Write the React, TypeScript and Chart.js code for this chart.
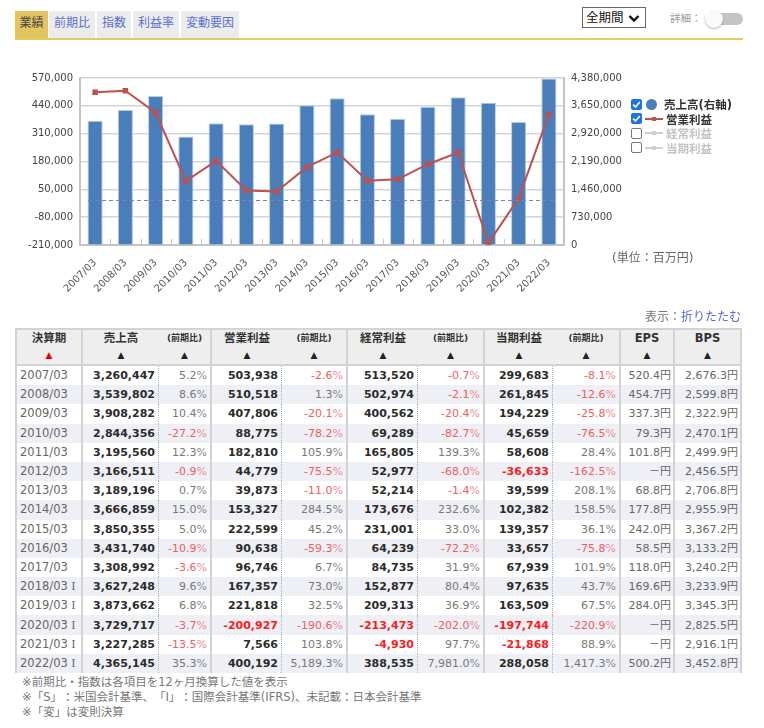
import React, { useEffect, useRef } from "react";
import { Chart, registerables } from "chart.js";

Chart.register(...registerables);

const FONT = "'DejaVu Sans', 'Noto Sans CJK JP', sans-serif";

// ---- data ----
const categories = ["2007/03", "2008/03", "2009/03", "2010/03", "2011/03", "2012/03", "2013/03", "2014/03", "2015/03", "2016/03", "2017/03", "2018/03", "2019/03", "2020/03", "2021/03", "2022/03"];
const periodSuffix = ["", "", "", "", "", "", "", "", "", "", "", "I", "I", "I", "I", "I"];
const sales = [3260447, 3539802, 3908282, 2844356, 3195560, 3166511, 3189196, 3666859, 3850355, 3431740, 3308992, 3627248, 3873662, 3729717, 3227285, 4365145];
const salesYoY = [5.2, 8.6, 10.4, -27.2, 12.3, -0.9, 0.7, 15.0, 5.0, -10.9, -3.6, 9.6, 6.8, -3.7, -13.5, 35.3];
const opProfit = [503938, 510518, 407806, 88775, 182810, 44779, 39873, 153327, 222599, 90638, 96746, 167357, 221818, -200927, 7566, 400192];
const opYoY = [-2.6, 1.3, -20.1, -78.2, 105.9, -75.5, -11.0, 284.5, 45.2, -59.3, 6.7, 73.0, 32.5, -190.6, 103.8, 5189.3];
const ordProfit = [513520, 502974, 400562, 69289, 165805, 52977, 52214, 173676, 231001, 64239, 84735, 152877, 209313, -213473, -4930, 388535];
const ordYoY = [-0.7, -2.1, -20.4, -82.7, 139.3, -68.0, -1.4, 232.6, 33.0, -72.2, 31.9, 80.4, 36.9, -202.0, 97.7, 7981.0];
const netProfit = [299683, 261845, 194229, 45659, 58608, -36633, 39599, 102382, 139357, 33657, 67939, 97635, 163509, -197744, -21868, 288058];
const netYoY = [-8.1, -12.6, -25.8, -76.5, 28.4, -162.5, 208.1, 158.5, 36.1, -75.8, 101.9, 43.7, 67.5, -220.9, 88.9, 1417.3];
const eps = [520.4, 454.7, 337.3, 79.3, 101.8, null, 68.8, 177.8, 242.0, 58.5, 118.0, 169.6, 284.0, null, null, 500.2];
const bps = [2676.3, 2599.8, 2322.9, 2470.1, 2499.9, 2456.5, 2706.8, 2955.9, 3367.2, 3133.2, 3240.2, 3233.9, 3345.3, 2825.5, 2916.1, 3452.8];

const leftAxis = { min: -210000, max: 570000, step: 130000 };
const rightAxis = { min: 0, max: 4380000, step: 730000 };

const tabs = ["業績", "前期比", "指数", "利益率", "変動要因"];
const legendItems = [
  { label: "売上高(右軸)", on: true, kind: "dot" },
  { label: "営業利益", on: true, kind: "line" },
  { label: "経常利益", on: false, kind: "line" },
  { label: "当期利益", on: false, kind: "line" },
];
const footnotes = [
  "※前期比・指数は各項目を12ヶ月換算した値を表示",
  "※「S」：米国会計基準、「I」：国際会計基準(IFRS)、未記載：日本会計基準",
  "※「変」は変則決算",
];

const BAR = "#4a7ebb";
const LINE = "#c0504d";

const fmtInt = (v: number) => v.toLocaleString("en-US");
const fmt1 = (v: number) =>
  v.toLocaleString("en-US", { minimumFractionDigits: 1, maximumFractionDigits: 1 });

const zeroLine = {
  id: "zeroLine",
  afterDatasetsDraw(chart: any) {
    const s = chart.scales.yL;
    const y = Math.round(s.getPixelForValue(0)) + 0.5;
    const { left, right } = chart.chartArea;
    const ctx = chart.ctx;
    ctx.save();
    ctx.setLineDash([4, 3]);
    ctx.strokeStyle = "#8a7bb5";
    ctx.lineWidth = 1.2;
    ctx.beginPath();
    ctx.moveTo(left + 8, y);
    ctx.lineTo(right - 8, y);
    ctx.stroke();
    ctx.restore();
  },
};

const catTicks = {
  id: "catTicks",
  beforeDatasetsDraw(chart: any) {
    const xs = chart.scales.x;
    const bottom = chart.chartArea.bottom;
    const ctx = chart.ctx;
    ctx.save();
    ctx.strokeStyle = "#c8c8c8";
    ctx.lineWidth = 1;
    for (let i = 0; i < categories.length - 1; i++) {
      const x = Math.round((xs.getPixelForValue(i) + xs.getPixelForValue(i + 1)) / 2) + 0.5;
      ctx.beginPath();
      ctx.moveTo(x, bottom - 6);
      ctx.lineTo(x, bottom);
      ctx.stroke();
    }
    ctx.restore();
  },
};

function ChartBox() {
  const ref = useRef<HTMLCanvasElement>(null);
  useEffect(() => {
    Chart.defaults.font.family = FONT;
    const chart = new Chart(ref.current as HTMLCanvasElement, {
      type: "bar",
      data: {
        labels: categories,
        datasets: [
          {
            type: "line",
            label: "営業利益",
            data: opProfit,
            yAxisID: "yL",
            borderColor: LINE,
            backgroundColor: LINE,
            borderWidth: 2,
            pointStyle: "rect",
            pointRadius: 2.5,
            order: 1,
          } as any,
          {
            type: "line",
            label: "経常利益",
            data: ordProfit,
            yAxisID: "yL",
            hidden: true,
            order: 1,
          } as any,
          {
            type: "line",
            label: "当期利益",
            data: netProfit,
            yAxisID: "yL",
            hidden: true,
            order: 1,
          } as any,
          {
            type: "bar",
            label: "売上高(右軸)",
            data: sales,
            yAxisID: "yR",
            backgroundColor: BAR,
            borderColor: "#b8cce6",
            borderWidth: 1,
            barPercentage: 0.5,
            categoryPercentage: 1,
            order: 2,
          } as any,
        ],
      },
      options: {
        responsive: false,
        animation: false,
        devicePixelRatio: 1,
        layout: { padding: { top: 18, left: 0, right: 0, bottom: 0 } },
        plugins: { legend: { display: false }, tooltip: { enabled: false } },
        scales: {
          x: {
            grid: { display: false },
            border: { color: "#c4c4c4", width: 2 },
            ticks: {
              minRotation: 45,
              maxRotation: 45,
              autoSkip: false,
              color: "#555",
              padding: 4,
              font: { size: 10, family: FONT },
            },
            afterFit: (s: any) => {
              s.height = 65;
            },
          },
          yL: {
            position: "left",
            min: leftAxis.min,
            max: leftAxis.max,
            grid: { color: "#d4d4d4", lineWidth: 1.5, drawTicks: false },
            border: { color: "#c4c4c4", width: 2 },
            ticks: {
              stepSize: leftAxis.step,
              padding: 7,
              color: "#444",
              font: { size: 10, family: FONT },
              callback: (v: any) => fmtInt(Number(v)),
            },
            afterFit: (s: any) => {
              s.width = 80;
            },
          },
          yR: {
            position: "right",
            min: rightAxis.min,
            max: rightAxis.max,
            grid: { drawOnChartArea: false, drawTicks: false },
            border: { color: "#c4c4c4", width: 2 },
            ticks: {
              stepSize: rightAxis.step,
              padding: 7,
              color: "#444",
              font: { size: 10, family: FONT },
              callback: (v: any) => fmtInt(Number(v)),
            },
            afterFit: (s: any) => {
              s.width = 76;
            },
          },
        },
      } as any,
      plugins: [zeroLine, catTicks],
    });
    return () => chart.destroy();
  }, []);
  return (
    <canvas
      ref={ref}
      width={640}
      height={250}
      style={{ position: "absolute", left: 0, top: 60, width: 640, height: 250 }}
    />
  );
}

function CheckBox({ on }: { on: boolean }) {
  if (on) {
    return (
      <div style={{ width: 11, height: 11, borderRadius: 2, background: "#1a73e8", position: "relative" }}>
        <svg width="11" height="11" style={{ position: "absolute", left: 0, top: 0 }}>
          <polyline points="2.2,5.6 4.5,8 8.8,3" fill="none" stroke="#fff" strokeWidth="1.7" />
        </svg>
      </div>
    );
  }
  return <div style={{ width: 9, height: 9, borderRadius: 2, border: "1px solid #777", background: "#fff" }} />;
}

function LegendIcon({ kind, on }: { kind: string; on: boolean }) {
  if (kind === "dot") {
    return <div style={{ width: 11, height: 11, borderRadius: "50%", background: BAR, margin: "0 7px 0 4px" }} />;
  }
  const c = on ? LINE : "#cfcfcf";
  return (
    <div style={{ width: 18, height: 11, position: "relative", margin: "0 3px 0 3px" }}>
      <div style={{ position: "absolute", left: 0, top: 4.5, width: 18, height: 2, background: c }} />
      <div style={{ position: "absolute", left: 7, top: 3.5, width: 4, height: 4, background: c }} />
    </div>
  );
}

const colWidths = [66, 76, 53, 70, 66, 70, 67, 68, 68, 54, 67];
const GRID = "#d3d3d3";
const DOT = "1px dotted #b0b0b0";
const SERIF_I = "'DejaVu Serif', 'Liberation Serif', serif";

function Table() {
  const headCell = (title: string, small: boolean, red: boolean, rightBorder: boolean) => (
    <th
      style={{
        background: "#eeeeee",
        borderRight: rightBorder ? `2px solid ${GRID}` : "none",
        borderBottom: `2px solid ${GRID}`,
        verticalAlign: "top",
        padding: "1px 0 0 0",
        fontWeight: "bold",
        color: "#333",
      }}
    >
      <div style={{ fontSize: small ? 9 : 11.5, lineHeight: "15px", height: 15 }}>{title}</div>
      <div style={{ fontSize: 9, lineHeight: "16px", color: red ? "#ee0000" : "#222", marginTop: 1 }}>▲</div>
    </th>
  );
  const num = (v: number, dotted: boolean) => (
    <td
      style={{
        textAlign: "right",
        fontWeight: "bold",
        color: v < 0 ? "#ff1a1a" : "#2b2b2b",
        borderRight: dotted ? DOT : `2px solid ${GRID}`,
        padding: "0 3px 0 0",
      }}
    >
      {fmtInt(v)}
    </td>
  );
  const pct = (v: number) => (
    <td
      style={{
        textAlign: "right",
        color: v < 0 ? "#f25c5c" : "#777",
        borderRight: `2px solid ${GRID}`,
        padding: "0 3px 0 0",
      }}
    >
      {fmt1(v)}
      <span style={{ color: v < 0 ? "#f08c8c" : "#8a8a8a" }}>%</span>
    </td>
  );
  return (
    <table
      style={{
        position: "absolute",
        left: 15,
        top: 328,
        width: 727,
        tableLayout: "fixed",
        borderCollapse: "separate",
        borderSpacing: 0,
        borderLeft: `2px solid ${GRID}`,
        borderTop: `2px solid ${GRID}`,
        fontFamily: FONT,
        fontSize: 11,
      }}
    >
      <colgroup>
        {colWidths.map((w, i) => (
          <col key={i} style={{ width: w }} />
        ))}
      </colgroup>
      <thead>
        <tr style={{ height: 36 }}>
          {headCell("決算期", false, true, true)}
          {headCell("売上高", false, false, false)}
          {headCell("(前期比)", true, false, true)}
          {headCell("営業利益", false, false, false)}
          {headCell("(前期比)", true, false, true)}
          {headCell("経常利益", false, false, false)}
          {headCell("(前期比)", true, false, true)}
          {headCell("当期利益", false, false, false)}
          {headCell("(前期比)", true, false, true)}
          {headCell("EPS", false, false, true)}
          {headCell("BPS", false, false, true)}
        </tr>
      </thead>
      <tbody>
        {categories.map((c, i) => (
          <tr key={c} style={{ height: 19.2, background: i % 2 === 1 ? "#efeff6" : "#ffffff", lineHeight: "15px", whiteSpace: "nowrap" }}>
            <td style={{ color: "#666", borderRight: `2px solid ${GRID}`, padding: "0 0 0 3px", fontSize: 11.5 }}>
              {c}
              {periodSuffix[i] ? <span style={{ fontFamily: SERIF_I, fontSize: 11 }}>{" " + periodSuffix[i]}</span> : null}
            </td>
            {num(sales[i], true)}
            {pct(salesYoY[i])}
            {num(opProfit[i], true)}
            {pct(opYoY[i])}
            {num(ordProfit[i], true)}
            {pct(ordYoY[i])}
            {num(netProfit[i], true)}
            {pct(netYoY[i])}
            <td style={{ textAlign: "right", color: "#666", borderRight: `2px solid ${GRID}`, padding: "0 2px 0 0" }}>
              {eps[i] === null ? "－" : fmt1(eps[i] as number)}円
            </td>
            <td style={{ textAlign: "right", color: "#666", borderRight: `2px solid ${GRID}`, padding: "0 2px 0 0" }}>
              {fmt1(bps[i])}円
            </td>
          </tr>
        ))}
      </tbody>
    </table>
  );
}

export default function App() {
  const tabLefts = [15, 49, 97, 133, 181];
  const tabWidths = [33, 46, 34, 46, 58];
  return (
    <div
      style={{
        position: "absolute",
        left: 0,
        top: 0,
        width: 764,
        height: 728,
        background: "#fff",
        fontFamily: FONT,
        overflow: "hidden",
        textSpacingTrim: "space-all",
      } as any}
    >
      {/* tabs */}
      {tabs.map((t, i) => (
        <div
          key={t}
          style={{
            position: "absolute",
            left: tabLefts[i],
            top: 11,
            width: tabWidths[i],
            height: 27,
            background: i === 0 ? "#e3c45f" : "#ececec",
            color: i === 0 ? "#444" : "#5a6fd6",
            fontSize: 12,
            lineHeight: "25px",
            textAlign: "center",
          }}
        >
          {t}
        </div>
      ))}
      <div style={{ position: "absolute", left: 15, top: 38, width: 728, height: 2, background: "#e6c95f" }} />

      {/* select */}
      <div
        style={{
          position: "absolute",
          left: 582,
          top: 7,
          width: 59,
          height: 19,
          border: "1px solid #666",
          background: "#fff",
          fontSize: 12.5,
          lineHeight: "19px",
          color: "#111",
          paddingLeft: 3,
          boxSizing: "content-box",
        }}
      >
        全期間
        <svg width="12" height="9" style={{ position: "absolute", left: 45, top: 6 }}>
          <polyline points="1.5,2 6,6.5 10.5,2" fill="none" stroke="#111" strokeWidth="2.4" />
        </svg>
      </div>
      <div style={{ position: "absolute", left: 670, top: 11, fontSize: 10.5, color: "#999", lineHeight: "14px" }}>詳細：</div>
      <div style={{ position: "absolute", left: 716, top: 13, width: 27, height: 12, borderRadius: 6, background: "#c4c4c4" }} />
      <div
        style={{
          position: "absolute",
          left: 705,
          top: 10,
          width: 18,
          height: 18,
          borderRadius: "50%",
          background: "#fafafa",
          boxShadow: "0 1px 2px rgba(0,0,0,0.3)",
        }}
      />

      <ChartBox />

      {/* legend */}
      {legendItems.map((it, i) => (
        <div
          key={it.label}
          style={{
            position: "absolute",
            left: 631,
            top: 97 + i * 14.5,
            height: 14,
            display: "flex",
            alignItems: "center",
          }}
        >
          <CheckBox on={it.on} />
          <LegendIcon kind={it.kind} on={it.on} />
          <span style={{ fontSize: 11.5, fontWeight: "bold", color: it.on ? "#333" : "#c4c4c4" }}>{it.label}</span>
        </div>
      ))}
      <div style={{ position: "absolute", left: 612, top: 251, fontSize: 12, color: "#666", lineHeight: "14px" }}>
        (単位：百万円)
      </div>

      <div style={{ position: "absolute", left: 645, top: 310, fontSize: 12, lineHeight: "14px", color: "#777" }}>
        表示：<span style={{ color: "#5468d4" }}>折りたたむ</span>
      </div>

      <Table />

      {footnotes.map((f, i) => (
        <div
          key={i}
          style={{
            position: "absolute",
            left: 22,
            top: 675 + i * 15,
            fontSize: 11.5,
            lineHeight: "14px",
            color: "#777",
            whiteSpace: "nowrap",
          }}
        >
          {f}
        </div>
      ))}
    </div>
  );
}
